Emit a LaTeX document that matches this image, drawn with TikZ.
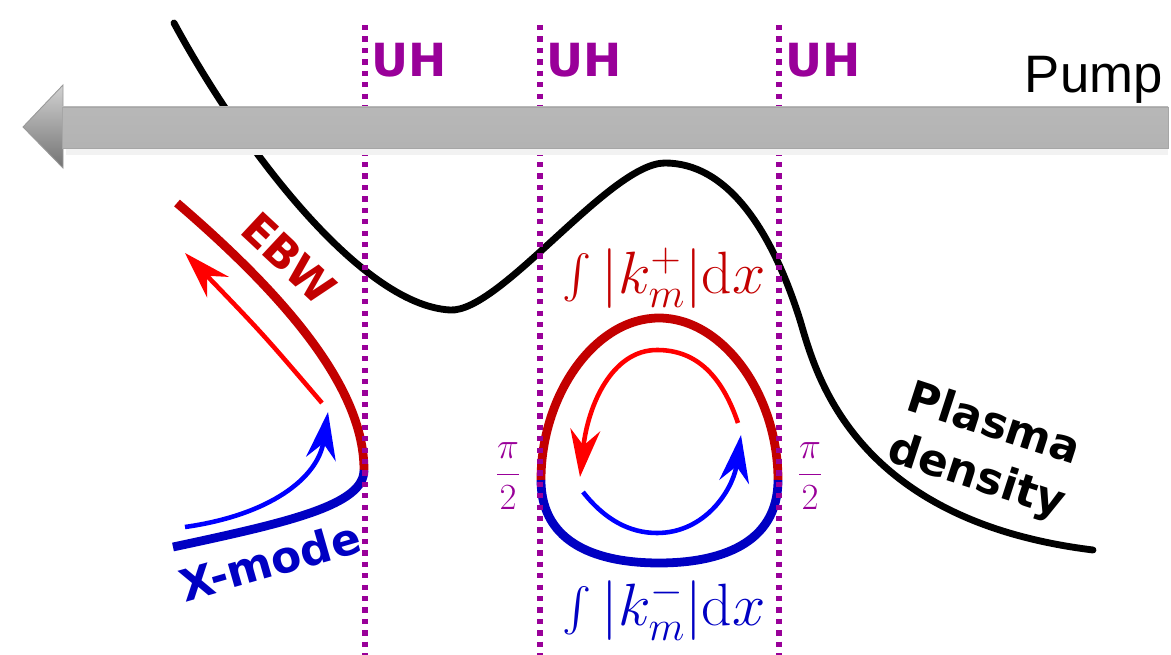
\RequirePackage{fix-cm}
\documentclass[tikz,border=0pt]{standalone}
\usepackage{amsmath}
\usepackage{fontspec}
\newfontfamily\labfont{DejaVu Sans}
\newfontfamily\pumpfont{Liberation Sans}
\usepackage{tikz}
\usetikzlibrary{arrows.meta}

\definecolor{ebwred}{RGB}{195,0,0}
\definecolor{xblue}{RGB}{0,0,195}
\definecolor{uhpurple}{RGB}{153,0,153}

\pgfdeclareverticalshading{pumpbar}{100bp}{color(0bp)=(black!50); color(12bp)=(black!40); color(22bp)=(black!30); color(76bp)=(black!28); color(88bp)=(black!11); color(100bp)=(black!18)}

\begin{document}
\begin{tikzpicture}[x=0.02cm, y=-0.02cm,
    density/.style={line width=3.9pt, line cap=round},
    ebwline/.style={draw=ebwred, line width=5pt},
    xline/.style={draw=xblue, line width=5pt},
    flow/.style={line width=2.6pt, -{Stealth[length=27pt, width=17pt, inset=9pt]}},
    uhline/.style={draw=uhpurple, line width=3.3pt, dash pattern=on 3pt off 3.5pt},
    uhlabel/.style={font=\labfont\bfseries\fontsize{26}{30}\selectfont, text=uhpurple, anchor=base west, inner sep=0pt},
    wavelabel/.style={font=\labfont\bfseries\fontsize{25}{31}\selectfont, inner sep=0pt},
    phase/.style={font=\fontsize{21}{25}\selectfont, inner sep=0pt},
    action/.style={font=\fontsize{34}{40}\selectfont, inner sep=0pt}
]
\useasboundingbox (0,0) rectangle (1171,655);

% plasma density profile
\draw[density] (174,23) .. controls (240,145) and (360,305) .. (450,310)
  .. controls (500,313) and (610,163) .. (665,163)
  .. controls (725,163) and (770,225) .. (800,320)
  .. controls (815,370) and (850,520) .. (1093,550);

% X-mode to EBW conversion
\draw[ebwline] (177,203) .. controls (290,300) and (364,390) .. (364,470);
\draw[xline] (364,470) .. controls (364,505) and (290,522) .. (173,547);
\draw[flow, red] (322,403) .. controls (263,334) .. (185,253);
\draw[flow, blue] (185,527) .. controls (270,515) and (318,478) .. (328,412);

% closed loop between the UH layers
\draw[ebwline] (541,480) .. controls (541,395) and (595,318) .. (659,318) .. controls (723,318) and (778,395) .. (778,480);
\draw[xline] (778,480) .. controls (778,545) and (718,563) .. (659,563) .. controls (600,563) and (541,545) .. (541,480);
\draw[flow, red] (738,423) .. controls (720,370) and (692,350) .. (657,350) .. controls (612,350) and (588,405) .. (580,477);
\draw[flow, blue] (583,492) .. controls (605,520) and (630,533) .. (657,533) .. controls (705,533) and (733,490) .. (741,435);

% upper hybrid layers
\foreach \x/\n in {365/1,540/2,779/3} {
  \draw[uhline] (\x,25) -- (\x,655);
  \node[uhlabel] (uh\n) at (\x+6,77) {UH};
}

% pump beam
\fill[black!5] (66,149) rectangle (1168,155);
\shade[top color=black!18, bottom color=black!55, draw=black!40, line width=0.5pt] (23,127) -- (63,85) -- (63,168) -- cycle;
\shade[shading=pumpbar, draw=black!35, line width=0.5pt] (62,107) rectangle (1168,148);
\node[font=\pumpfont\fontsize{30}{36}\selectfont, anchor=base east, inner sep=0pt] (pump) at (1163,93) {Pump};

\node[wavelabel, text=ebwred, rotate=-43] (ebw) at (289,258) {EBW};
\node[wavelabel, text=xblue, rotate=16] (xmode) at (270,561) {X-mode};
\node[wavelabel, rotate=-18, align=center] (dens) at (985,452) {Plasma\\density};

\node[action, text=ebwred] (kplus) at (664,278) {$\int |k_m^+| \mathrm{d}x$};
\node[action, text=xblue] (kminus) at (664,610) {$\int |k_m^-| \mathrm{d}x$};
\node[phase, text=uhpurple] (phil) at (508,476) {$\dfrac{\pi}{2}$};
\node[phase, text=uhpurple] (phir) at (810,476) {$\dfrac{\pi}{2}$};

\end{tikzpicture}
\end{document}
